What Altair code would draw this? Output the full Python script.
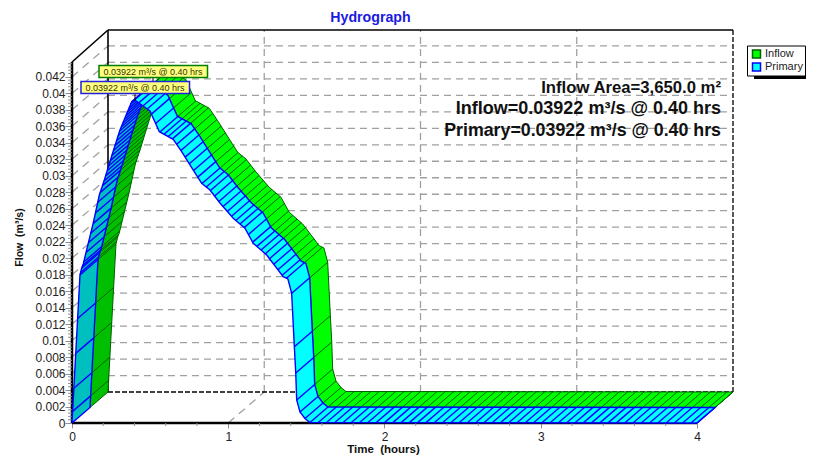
import altair as alt
import numpy as np
import pandas as pd

# Primary (front ribbon edge) curve
TIME = [0, .051, .062, .072, .136, .175, .207, .260, .307, .382, .40,
        .499, .559, .648, .702, .776, .830, .883, .947, 1.032, 1.107, 1.160,
        1.246, 1.352, 1.382, 1.406, 1.423, 1.432, 1.438, 1.459, 1.491, 1.523, 4.0]
FLOW = [0, .01796, .01881, .0193, .02427, .02767, .02949, .03277, .03556, .03899, .03922,
        .03786, .03535, .03443, .03292, .0307, .02909, .02828, .0267, .02484, .02363, .02181,
        .02039, .01775, .01748, .01574, .00926, .00607, .00279, .00133, .00055, .00006, 0]
PEAK_T = 0.40

HATCH_T = [.004, .012, .024, .036, .051, .055, .062, .068, .075, .09, .105, .12, .135, .15, .165, .18, .195, .205,
           .215, .225, .235, .245, .255, .265, .275, .285, .295, .305, .315, .325, .335, .345, .355, .365, .375, .385, .40,
           .427, .454, .481, .508, .535, .562, .589, .616, .643, .67, .697, .724, .751, .778, .805, .832, .859, .886,
           .913, .94, .967, .994, 1.021, 1.048, 1.075, 1.102, 1.129, 1.156, 1.183, 1.21, 1.237, 1.264, 1.291, 1.318,
           1.345, 1.372,
           1.406, 1.423, 1.432, 1.438, 1.459, 1.491, 1.523,
           1.576, 1.629, 1.682, 1.735, 1.788, 1.841, 1.894, 1.947, 2.0, 2.053, 2.106, 2.159, 2.212, 2.265,
           2.318, 2.371, 2.424, 2.477, 2.53, 2.583, 2.636, 2.689, 2.742, 2.795, 2.848, 2.901, 2.954, 3.007,
           3.06, 3.113, 3.166, 3.219, 3.272, 3.325, 3.378, 3.431, 3.484, 3.537, 3.59, 3.643, 3.696, 3.749,
           3.802, 3.855, 3.908, 3.961, 4.0]

Y_TICKS = [round(i * 0.002, 3) for i in range(22)]
Y_MINOR = [round(i * 0.0004, 4) for i in range(110) if i % 5 != 0]
X_TICKS = [0, 1, 2, 3, 4]
X_MINOR = [0.2, 0.4, 0.6, 0.8, 1.2, 1.4, 1.6, 1.8, 2.2, 2.4, 2.6, 2.8, 3.2, 3.4, 3.6, 3.8]
SERIES = ["Inflow", "Primary"]
NOTES = ["Inflow Area=3,650.0 m²", "Inflow=0.03922 m³/s @ 0.40 hrs", "Primary=0.03922 m³/s @ 0.40 hrs"]
PEAK_LABEL = "0.03922 m³/s @ 0.40 hrs"

# oblique 3-D depth of the chart box, in data units
DT, DQ = 0.2304, 0.00376
XMAX, YMAX = 4.2304, 0.04769
AXIS_TOP = 0.04381
W, H = 661, 393

xs = alt.Scale(domain=[0, XMAX], nice=False, zero=False)
ys = alt.Scale(domain=[0, YMAX], nice=False, zero=False)
x_axis = alt.Axis(
    values=X_TICKS, format="d", grid=False, domain=False, tickColor="#909090", tickSize=5,
    labelFont="Liberation Sans", labelFontSize=12, labelColor="#222222", labelPadding=3, labelFlush=False,
    titleFont="Liberation Sans", titleFontSize=11.5, titleFontWeight="bold", titleColor="#111111",
    titleX=311, titleY=26, titleBaseline="middle")
y_axis = alt.Axis(
    values=Y_TICKS, format=".3~f", grid=False, domain=False, tickColor="#909090", tickSize=7,
    labelFont="Liberation Sans", labelFontSize=12, labelColor="#222222", labelPadding=0,
    titleFont="Liberation Sans", titleFontSize=10.5, titleFontWeight="bold", titleColor="#111111",
    titleX=-48, titleY=207)
x_enc = alt.X("x:Q", scale=xs, title="Time\u00a0\u00a0(hours)", axis=x_axis)
y_enc = alt.Y("y:Q", scale=ys, title="Flow\u00a0\u00a0(m³/s)", axis=y_axis)

GRID = "#a0a0a0"
DASH = [7, 5]


def seg(df_rows, **mark):
    df = pd.DataFrame(df_rows, columns=["x", "y", "x2", "y2"])
    return alt.Chart(df).mark_rule(**mark).encode(
        x=x_enc, y=y_enc, x2="x2:Q", y2="y2:Q")


def ribbon(k, t0, t1, fill, stroke, sw):
    """one limb of one series: k = number of half-depth slices behind the front"""
    t = np.array(TIME)
    q = np.array(FLOW)
    m = (t >= t0) & (t <= t1)
    f = 0.5 * k
    b = f + 0.5
    px = list(t[m] + f * DT) + list(t[m][::-1] + b * DT) + [t[m][0] + f * DT]
    py = list(q[m] + f * DQ) + list(q[m][::-1] + b * DQ) + [q[m][0] + f * DQ]
    poly = pd.DataFrame({"x": px, "y": py, "i": range(len(px))})
    face = alt.Chart(poly).mark_line(fill=fill, stroke=stroke, strokeWidth=sw, interpolate="linear").encode(
        x=x_enc, y=y_enc, order="i:Q")
    ht = np.array([h for h in HATCH_T if t0 <= h <= t1])
    hq = np.interp(ht, t, q)
    rows = list(zip(ht + f * DT, hq + f * DQ, ht + b * DT, hq + b * DQ))
    return [face, seg(rows, color=stroke, strokeWidth=sw)]


layers = []
# back wall, left wall and floor grid
layers.append(seg([(DT, v + DQ, XMAX, v + DQ) for v in Y_TICKS[1:]],
                  color=GRID, strokeWidth=1.3, strokeDash=DASH))
layers.append(seg([(0, v, DT, v + DQ) for v in Y_TICKS[1:]], color=GRID, strokeWidth=1.3, strokeDash=[8, 6]))
layers.append(seg([(v + DT, DQ, v + DT, YMAX) for v in X_TICKS[1:-1]], color=GRID, strokeWidth=1.3, strokeDash=DASH))
layers.append(seg([(v, 0, v + DT, DQ) for v in X_TICKS[1:-1]], color=GRID, strokeWidth=1.3, strokeDash=[8, 6]))
# box outline
layers.append(seg([(DT, DQ, XMAX, DQ), (XMAX, DQ, XMAX, YMAX)], color="black", strokeWidth=1.3, strokeDash=[5, 2]))
layers.append(seg([(DT, DQ, DT, YMAX), (DT, YMAX, XMAX, YMAX), (0, AXIS_TOP, DT, YMAX)], color="black", strokeWidth=1.6))
layers.append(seg([(4, 0, XMAX, DQ)], color="#808080", strokeWidth=1))
# heavy front axes
layers.append(seg([(0, 0, 4, 0), (0, 0, 0, AXIS_TOP)], color="black", strokeWidth=2.5))
# minor ticks
ymin = pd.DataFrame({"y": [v for v in Y_MINOR if v < AXIS_TOP]})
layers.append(alt.Chart(ymin).mark_rule(color="#909090", strokeWidth=1).encode(
    y=y_enc, x=alt.value(-4), x2=alt.value(0)))
xmin = pd.DataFrame({"x": X_MINOR})
layers.append(alt.Chart(xmin).mark_rule(color="#909090", strokeWidth=1).encode(
    x=x_enc, y=alt.value(H), y2=alt.value(H + 3)))
# ribbons, back one first
layers += ribbon(1, 0, PEAK_T, "#00bf00", "#006000", 1)
layers += ribbon(1, PEAK_T, 4, "#00ff00", "#006000", 1)
layers += ribbon(0, 0, PEAK_T, "#00bfbf", "#0000ff", 1.4)
layers += ribbon(0, PEAK_T, 4, "#00ffff", "#0000ff", 1.4)


# peak call-outs (annotation, placed in plot pixels)
def callout(x0, y0, border, peak_x, peak_y):
    d = pd.DataFrame({"t": [PEAK_LABEL]})
    box = alt.Chart(d).mark_rect(fill="#ffff80", stroke=border, strokeWidth=1.5).encode(
        x=alt.value(x0), x2=alt.value(x0 + 108.5), y=alt.value(y0), y2=alt.value(y0 + 12))
    txt = alt.Chart(d).mark_text(align="center", baseline="middle", font="Liberation Sans",
                                 fontSize=9, color="#333300").encode(
        x=alt.value(x0 + 54), y=alt.value(y0 + 6.3), text="t:N")
    pin = alt.Chart(d).mark_rule(color="black", strokeWidth=1).encode(
        x=alt.value(peak_x), y=alt.value(y0 + 12), y2=alt.value(peak_y))
    return [pin, box, txt]


layers += callout(27, 35.5, "#008000", 81, 51)
layers += callout(9, 51.5, "#2222dd", 63, 71)

# notes
for note, yy, fs in zip(NOTES, [58, 79, 101], [16.7, 18, 17.8]):
    layers.append(alt.Chart(pd.DataFrame({"t": [note]})).mark_text(
        align="right", baseline="middle", font="Liberation Sans", fontSize=fs, fontWeight="bold", color="#111111"
    ).encode(x=alt.value(649), y=alt.value(yy), text="t:N"))

# legend shadow and legend
layers.append(alt.Chart(pd.DataFrame({"t": ["s"]})).mark_rect(color="black").encode(
    x=alt.value(682), x2=alt.value(734), y=alt.value(25), y2=alt.value(49)))
key = pd.DataFrame({"series": SERIES, "x": [0.0, 0.0], "y": [0.0, 0.0]})
leg = dict(title=None, orient="none", legendX=675, legendY=15.5, symbolType="square", symbolSize=64,
           symbolStrokeWidth=1.5, symbolOffset=2, fillColor="white", strokeColor="black", padding=2, rowPadding=0,
           clipHeight=13, labelFont="Liberation Sans", labelFontSize=11, labelColor="#222222", labelOffset=3,
           labelLimit=60)
layers.append(alt.Chart(key).mark_square(size=0, filled=True, opacity=1).encode(
    x=x_enc, y=y_enc,
    fill=alt.Fill("series:N", scale=alt.Scale(domain=SERIES, range=["#00ff00", "#00ffff"]), legend=alt.Legend(**leg)),
    stroke=alt.Stroke("series:N", scale=alt.Scale(domain=SERIES, range=["#006000", "#0000ff"]), legend=alt.Legend(**leg)),
))

chart = alt.layer(*layers).properties(
    width=W, height=H, autosize="none",
    padding={"left": 64, "top": 22, "right": 73, "bottom": 33},
    title=alt.TitleParams("Hydrograph", anchor="middle", dx=-32, offset=4, font="Liberation Sans",
                          fontSize=14.2, fontWeight="bold", color="#1a1ae0"),
).configure_view(stroke=None)

chart.save("out.html", embed_options={"renderer": "svg", "actions": False})
